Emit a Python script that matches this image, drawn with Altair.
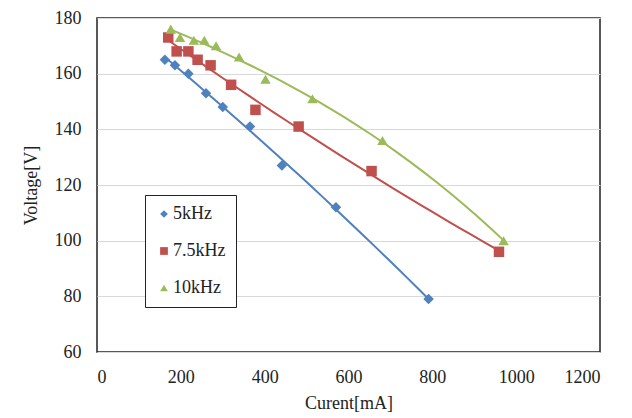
import altair as alt
import pandas as pd

series_names = ["5kHz", "7.5kHz", "10kHz"]

i_5k = [162, 186, 218, 260, 300, 365, 441, 570, 791]
v_5k = [165, 163, 160, 153, 148, 141, 127, 112, 79]

i_75k = [170, 190, 218, 240, 271, 320, 378, 481, 655, 959]
v_75k = [173, 168, 168, 165, 163, 156, 147, 141, 125, 96]

i_10k = [176, 198, 231, 256, 284, 339, 402, 514, 681, 970]
v_10k = [176, 173, 172, 172, 170, 166, 158, 151, 136, 100]

colors = ["#4F81BD", "#C0504D", "#9BBB59"]
shapes = ["diamond", "square", "triangle-up"]
fit_orders = [2, 2, 3]

rows = []
for name, xs, ys in zip(series_names, [i_5k, i_75k, i_10k], [v_5k, v_75k, v_10k]):
    for x, y in zip(xs, ys):
        rows.append({"series": name, "I": x, "V": y})
df = pd.DataFrame(rows)

font = "Liberation Serif"

xscale = alt.Scale(domain=[0, 1200], nice=False)
yscale = alt.Scale(domain=[60, 180], nice=False)

xaxis = alt.Axis(values=list(range(0, 1201, 200)), format="d", title="Curent[mA]", grid=False,
                 domain=False, ticks=False, labelPadding=16, titlePadding=8)
yaxis = alt.Axis(values=list(range(60, 181, 20)), title="Voltage[V]", grid=True,
                 gridColor="#d9d9d9", gridWidth=1.2, domain=False, ticks=False,
                 labelPadding=16, titlePadding=14)

legend_opts = dict(title=None, orient="none", legendX=48, legendY=177,
                   strokeColor="#222", fillColor="white", padding=10,
                   rowPadding=19, symbolSize=60, labelOffset=0,
                   symbolStrokeWidth=0)

color = alt.Color("series:N", scale=alt.Scale(domain=series_names, range=colors),
                  legend=alt.Legend(**legend_opts))
shape = alt.Shape("series:N", scale=alt.Scale(domain=series_names, range=shapes),
                  legend=alt.Legend(**legend_opts))

base = alt.Chart(df)

layers = []
for name, order, col in zip(series_names, fit_orders, colors):
    layers.append(
        base.transform_filter(alt.datum.series == name)
        .transform_regression("I", "V", method="poly", order=order)
        .mark_line(strokeWidth=2, color=col)
        .encode(
            x=alt.X("I:Q", scale=xscale, axis=xaxis),
            y=alt.Y("V:Q", scale=yscale, axis=yaxis),
        )
    )

points = base.mark_point(filled=True, opacity=1, size=110).encode(
    x=alt.X("I:Q", scale=xscale, axis=xaxis),
    y=alt.Y("V:Q", scale=yscale, axis=yaxis),
    color=color,
    shape=shape,
)

chart = alt.layer(*layers, points).properties(
    width=503, height=334,
    autosize=alt.AutoSizeParams(type="none"),
    padding={"left": 89, "top": 10, "right": 24, "bottom": 60},
    background="white",
).configure(font=font).configure_view(
    stroke="#222", strokeWidth=1.5
).configure_axis(
    labelFont=font, labelFontSize=18, labelColor="#222",
    titleFont=font, titleFontSize=18, titleFontWeight="normal", titleColor="#222",
).configure_legend(
    labelFont=font, labelFontSize=18, labelColor="#222",
)

chart.save("out.html", embed_options={"renderer": "svg", "actions": False})
